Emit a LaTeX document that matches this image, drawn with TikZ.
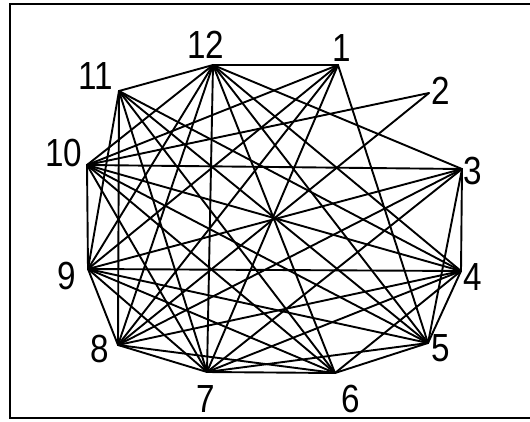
\documentclass[tikz,border=0pt]{standalone}
\usepackage{fontspec}
\setmainfont{Liberation Sans}
\begin{document}
\begin{tikzpicture}[x=1pt,y=-1pt,
  edge/.style={line width=1.9pt, black, line cap=round},
  frame/.style={line width=2.2pt, black},
  lab/.style={font=\fontsize{35}{35}\selectfont, inner sep=0pt, anchor=center}]
\useasboundingbox (0,0) rectangle (530,421);
\fill[white] (0,0) rectangle (530,421);
% frame
\coordinate (fTL) at (10,4);
\coordinate (fTR) at (530,4);
\coordinate (fBL) at (10,418);
\coordinate (fBR) at (530,418);
\draw[frame] (fTR) -- (fTL) -- (fBL) -- (fBR);
% vertices
\coordinate (v12) at (213,65);
\coordinate (v1) at (338,65);
\coordinate (v2) at (429,93);
\coordinate (v3) at (462,169);
\coordinate (v4) at (461,271);
\coordinate (v5) at (428,343);
\coordinate (v6) at (335,373);
\coordinate (v7) at (207,372);
\coordinate (v8) at (118,345);
\coordinate (v9) at (88,269);
\coordinate (v10) at (87,165);
\coordinate (v11) at (119,91);
% edges
\foreach \a/\b in {12/1,12/11,12/10,12/9,12/8,12/7,12/6,12/5,12/4,12/3,
  1/10,1/9,1/8,1/7,1/5,
  2/10,2/8,
  3/4,3/5,3/7,3/8,3/9,3/10,
  4/5,4/6,4/7,4/8,4/9,4/10,4/11,
  5/6,5/7,5/9,5/10,5/11,
  6/7,6/8,6/9,6/10,6/11,
  7/8,7/9,7/10,7/11,
  8/9,8/11,
  9/10,9/11}
  \draw[edge] (v\a) -- (v\b);
% labels
\node[lab] (l12) at (206,45) {\scalebox{0.95}[1.12]{12}};
\node[lab] (l1) at (342,48) {\scalebox{0.95}[1.12]{1}};
\node[lab] (l2) at (441,91) {\scalebox{0.95}[1.12]{2}};
\node[lab] (l3) at (473,171) {\scalebox{0.95}[1.12]{3}};
\node[lab] (l4) at (473,277) {\scalebox{0.95}[1.12]{4}};
\node[lab] (l5) at (441,348) {\scalebox{0.95}[1.12]{5}};
\node[lab] (l6) at (351,399) {\scalebox{0.95}[1.12]{6}};
\node[lab] (l7) at (206,399) {\scalebox{0.95}[1.12]{7}};
\node[lab] (l8) at (100,349) {\scalebox{0.95}[1.12]{8}};
\node[lab] (l9) at (67,276) {\scalebox{0.95}[1.12]{9}};
\node[lab] (l10) at (64,153) {\scalebox{0.95}[1.12]{10}};
\node[lab] (l11) at (96,76) {\scalebox{0.95}[1.12]{11}};
\end{tikzpicture}
\end{document}
